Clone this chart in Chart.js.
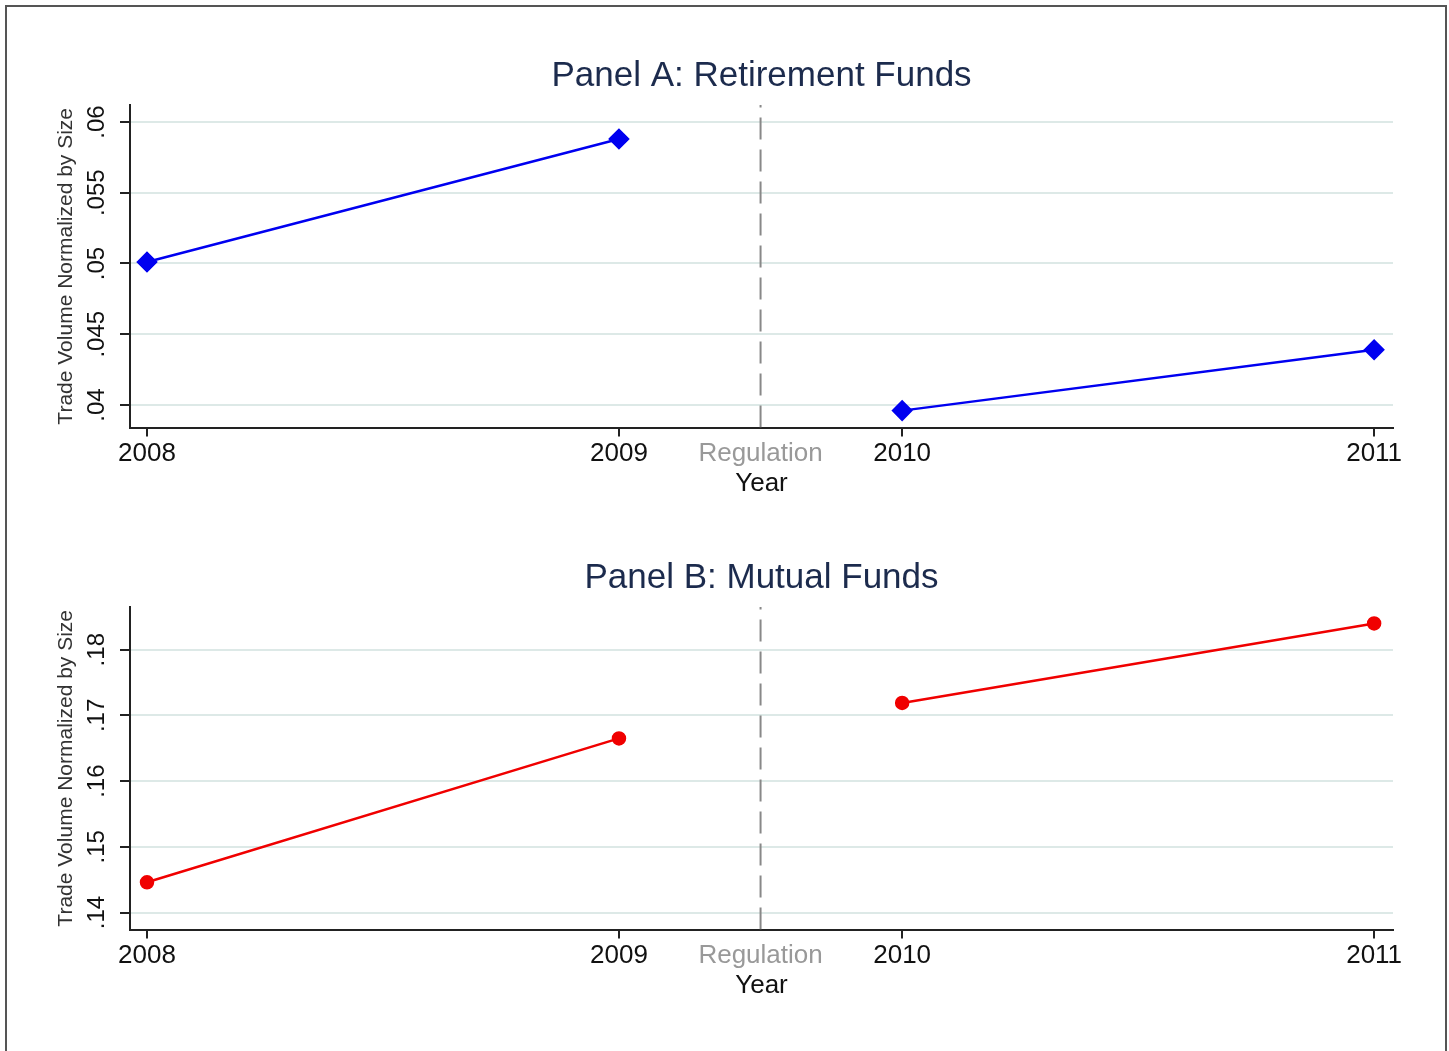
<!DOCTYPE html>
<html>
<head>
<script src="https://cdn.jsdelivr.net/npm/chart.js@4"></script>
<style>
  body { margin: 0; background: #fff; font-family: Arial, "Liberation Sans", sans-serif; }
  .frame { position: absolute; left: 5px; top: 5px; width: 1438px; height: 1060px; border: 2px solid #555; border-bottom: none; }
  .box { position: absolute; left: 10px; width: 1430px; height: 448px; }
</style>
</head>
<body>
<div class="frame"></div>
<div class="box" style="top:55px"><canvas id="panelA"></canvas></div>
<div class="box" style="top:557px"><canvas id="panelB"></canvas></div>
<script>
// x positions on the axis (the gap around the regulation is compressed)
const xLabels = ['2008', '2009', 'Regulation', '2010', '2011'];
const xPos = [0, 1, 1.3, 1.6, 2.6];
const years = [0, 1, 3, 4]; // indices into xPos that hold data

const retirement = [0.0501, 0.0588, 0.0396, 0.0439];
const mutual = [0.1446, 0.1665, 0.1719, 0.1840];

const ticksA = [0.04, 0.045, 0.05, 0.055, 0.06];
const labelsA = ['.04', '.045', '.05', '.055', '.06'];
const ticksB = [0.14, 0.15, 0.16, 0.17, 0.18];
const labelsB = ['.14', '.15', '.16', '.17', '.18'];

const FONT = 'Arial, "Liberation Sans"';

function seriesPoints(values) {
    const pts = [];
    values.forEach((v, i) => {
        pts.push({ x: xPos[years[i]], y: v });
        if (i === 1) pts.push({ x: xPos[2], y: null });
    });
    return pts;
}

// rotated y tick labels (Stata style) and a title centred on the plot area
const panelDecor = {
    id: 'panelDecor',
    afterDraw(chart, args, opts) {
        const ctx = chart.ctx, y = chart.scales.y, area = chart.chartArea;
        ctx.save();
        ctx.font = '24px ' + FONT;
        ctx.fillStyle = '#111';
        ctx.textAlign = 'center';
        ctx.textBaseline = 'bottom';
        opts.values.forEach((v, i) => {
            ctx.save();
            ctx.translate(y.right - 21, y.getPixelForValue(v));
            ctx.rotate(-Math.PI / 2);
            ctx.fillText(opts.labels[i], 0, 0);
            ctx.restore();
        });
        const t = chart.titleBlock;
        ctx.font = '35px ' + FONT;
        ctx.fillStyle = '#1c2b4d';
        ctx.textBaseline = 'middle';
        ctx.fillText(opts.title, (area.left + area.right) / 2, t.top + (t.height - 8) / 2);
        ctx.restore();
    }
};

function makePanel(id, title, values, color, style, radius, yMin, yMax, yTicks, yLabels) {
    new Chart(document.getElementById(id), {
        type: 'line',
        data: {
            datasets: [{
                data: seriesPoints(values),
                borderColor: color,
                backgroundColor: color,
                borderWidth: 2.5,
                pointStyle: style,
                pointRadius: radius,
                spanGaps: false
            }, {
                data: [{ x: xPos[2], y: yMin }, { x: xPos[2], y: yMax }],
                borderColor: '#888',
                borderWidth: 2,
                borderDash: [22, 10],
                pointRadius: 0
            }]
        },
        options: {
            animation: false,
            maintainAspectRatio: false,
            layout: { padding: { left: 44, right: 47 } },
            plugins: {
                legend: { display: false },
                tooltip: { enabled: false },
                title: {
                    display: true, text: title, color: 'rgba(0,0,0,0)',
                    font: { size: 35, weight: 'normal', family: FONT },
                    padding: { top: 0, bottom: 8 }
                },
                panelDecor: { values: yTicks, labels: yLabels, title: title }
            },
            scales: {
                x: {
                    type: 'linear',
                    min: -0.036, max: 2.64,
                    afterBuildTicks: s => { s.ticks = xPos.map(v => ({ value: v })); },
                    ticks: {
                        autoSkip: false, maxRotation: 0,
                        callback: (v, i) => xLabels[i],
                        color: c => c.index === 2 ? '#999' : '#111',
                        font: { size: 26, family: FONT },
                        padding: 2
                    },
                    grid: { drawOnChartArea: false, tickLength: 9, tickColor: c => c.index === 2 ? 'rgba(0,0,0,0)' : '#222', lineWidth: 2 },
                    border: { color: '#222', width: 2 },
                    title: { display: true, text: 'Year', color: '#111', font: { size: 26, family: FONT }, padding: { top: -4 } }
                },
                y: {
                    min: yMin, max: yMax,
                    afterBuildTicks: s => { s.ticks = yTicks.map(v => ({ value: v })); },
                    afterFit: s => { s.width = 76; },
                    ticks: { callback: () => '' },
                    grid: { color: '#dde9e7', lineWidth: 2, tickLength: 10, tickColor: '#222' },
                    border: { color: '#222', width: 2 },
                    title: {
                        display: true, text: 'Trade Volume Normalized by Size', color: '#333',
                        font: { size: 21, family: FONT }, padding: 0
                    }
                }
            }
        },
        plugins: [panelDecor]
    });
}

makePanel('panelA', 'Panel A: Retirement Funds', retirement, '#0000f0', 'rectRot', 9,
    0.0384, 0.0612, ticksA, labelsA);
makePanel('panelB', 'Panel B: Mutual Funds', mutual, '#f00000', 'circle', 6,
    0.1374, 0.1865, ticksB, labelsB);
</script>
</body>
</html>
